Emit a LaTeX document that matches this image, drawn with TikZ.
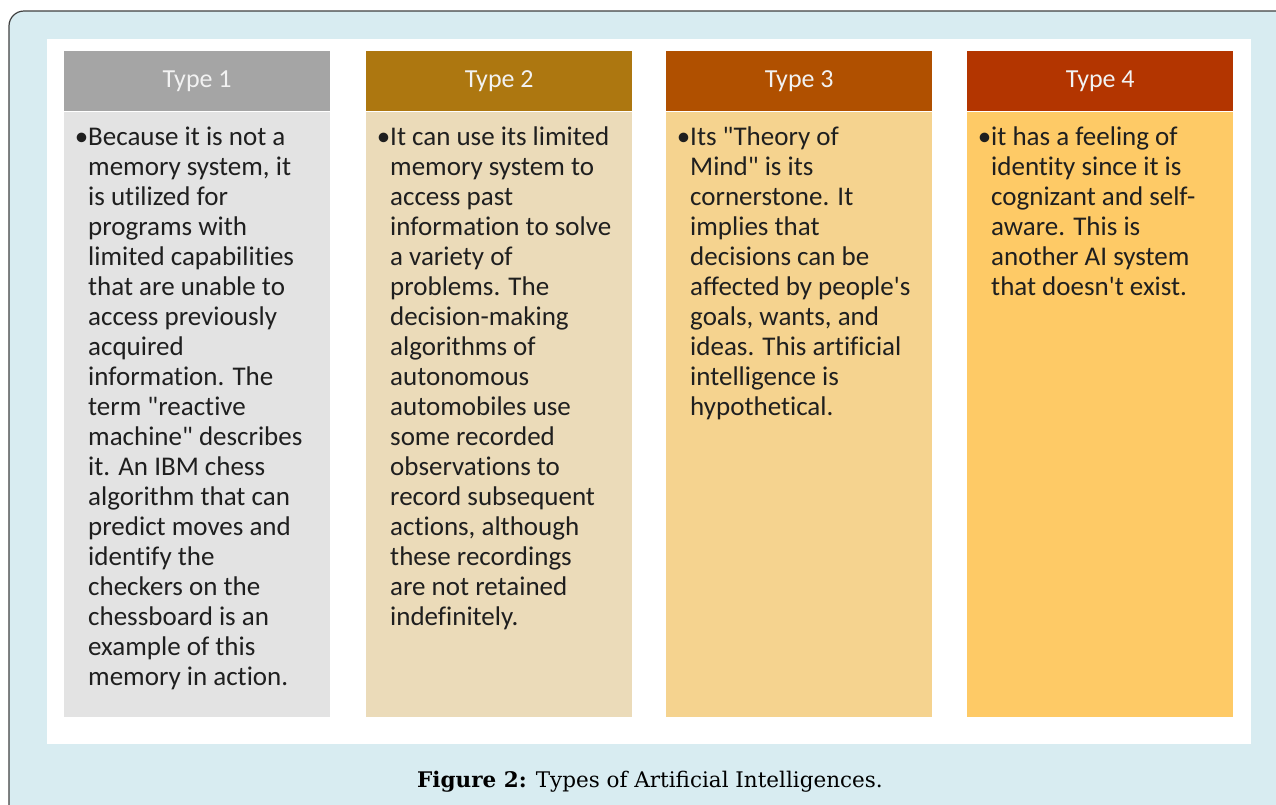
\documentclass[tikz,border=0pt]{standalone}
\usepackage{fontspec}
\newfontfamily\bodyfont[Ligatures=NoCommon]{Carlito}
\newfontfamily\capfont{DejaVu Serif}
\usetikzlibrary{positioning}

\definecolor{framefill}{HTML}{D8ECF1}
\definecolor{headone}{HTML}{A5A5A5}
\definecolor{bodyone}{HTML}{E3E3E3}
\definecolor{headtwo}{HTML}{AD7710}
\definecolor{bodytwo}{HTML}{EBDBB9}
\definecolor{headthree}{HTML}{B05000}
\definecolor{bodythree}{HTML}{F5D38F}
\definecolor{headfour}{HTML}{B33500}
\definecolor{bodyfour}{HTML}{FECA66}

\tikzset{
  typehead/.style={minimum width=266pt, minimum height=60pt, inner sep=0pt, anchor=north west,
    text=white!95!black, font=\bodyfont\fontsize{26}{30}\selectfont},
  typebody/.style={minimum width=266pt, minimum height=605pt, inner sep=0pt},
  typetext/.style={anchor=north west, inner sep=0pt, align=left, text=black!88,
    font=\bodyfont\fontsize{27}{30}\selectfont}
}
\newcommand{\firstline}{\rule{0pt}{20pt}\llap{•}}

\begin{document}
\begin{tikzpicture}[x=1pt,y=-1pt]

        \useasboundingbox (0,0) rectangle (1276,804);
        \clip (0,0) rectangle (1276,804);

        %outer frame and white panel
        \draw [fill=framefill, draw=black!75, line width=1.2pt, rounded corners=15pt] (9,11) rectangle (1320,850);
        \fill [white] (47,39) rectangle (1251,744);

        % Type 1 column
        \node [typehead, fill=headone] (h1) at (64,51) {Type 1};
        \node [typebody, fill=bodyone, below=0pt of h1] (b1) {};
        \node [typetext] (t1) at (88,125) {\firstline Because it is not a\\memory system, it\\is utilized for\\programs with\\limited capabilities\\that are unable to\\access previously\\acquired\\information. The\\term "reactive\\machine" describes\\it. An IBM chess\\algorithm that can\\predict moves and\\identify the\\checkers on the\\chessboard is an\\example of this\\memory in action.};

        % Type 2 column
        \node [typehead, fill=headtwo] (h2) at (366,51) {Type 2};
        \node [typebody, fill=bodytwo, below=0pt of h2] (b2) {};
        \node [typetext] (t2) at (390,125) {\firstline It can use its limited\\memory system to\\access past\\information to solve\\a variety of\\problems. The\\decision-making\\algorithms of\\autonomous\\automobiles use\\some recorded\\observations to\\record subsequent\\actions, although\\these recordings\\are not retained\\indefinitely.};

        % Type 3 column
        \node [typehead, fill=headthree] (h3) at (666,51) {Type 3};
        \node [typebody, fill=bodythree, below=0pt of h3] (b3) {};
        \node [typetext] (t3) at (690,125) {\firstline Its "Theory of\\Mind" is its\\cornerstone. It\\implies that\\decisions can be\\affected by people's\\goals, wants, and\\ideas. This artificial\\intelligence is\\hypothetical.};

        % Type 4 column
        \node [typehead, fill=headfour] (h4) at (967,51) {Type 4};
        \node [typebody, fill=bodyfour, below=0pt of h4] (b4) {};
        \node [typetext] (t4) at (991,125) {\firstline it has a feeling of\\identity since it is\\cognizant and self-\\aware. This is\\another AI system\\that doesn't exist.};

        %caption
        \node [font=\capfont\fontsize{21.5}{26}\selectfont] (cap) at (650,782) {\textbf{Figure 2:} Types of Artificial Intelligences.};

\end{tikzpicture}
\end{document}
